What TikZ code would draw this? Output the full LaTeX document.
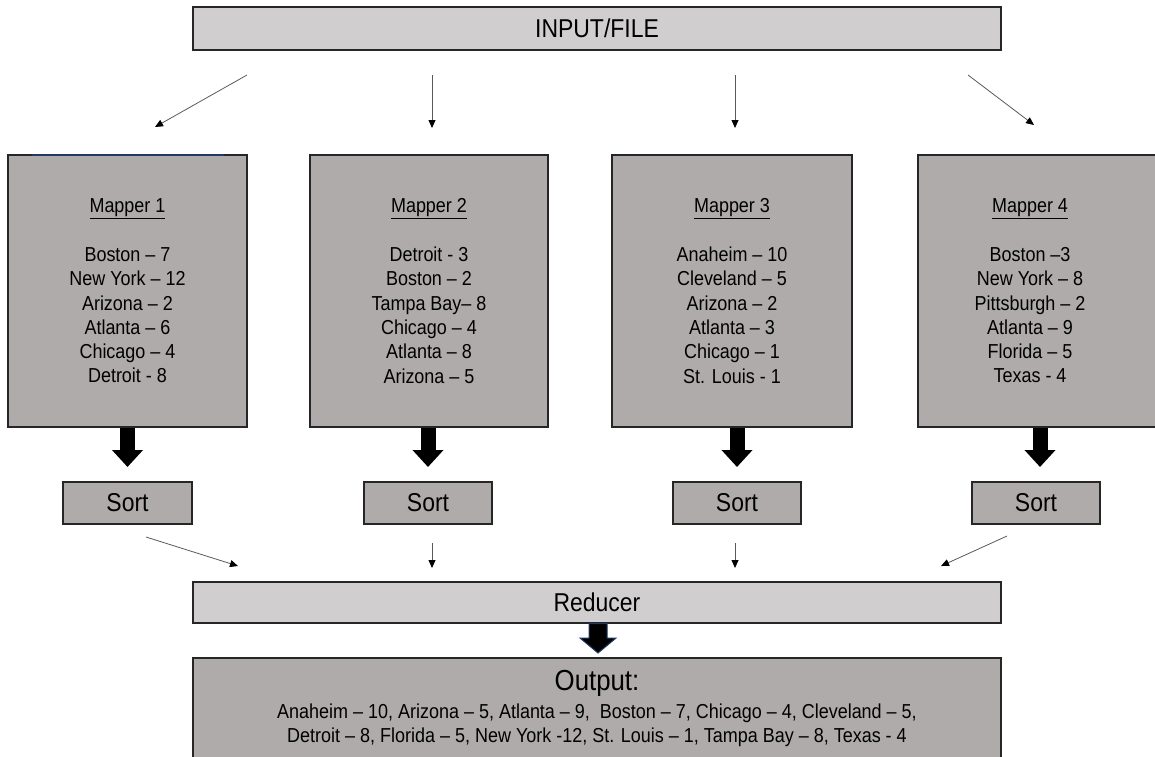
\documentclass[tikz,border=0pt]{standalone}
\usepackage{fontspec}
\setmainfont{Liberation Sans}[FakeStretch=0.89]
\usetikzlibrary{arrows.meta}

\definecolor{boxlight}{HTML}{D0CECE}
\definecolor{boxdark}{HTML}{AFABAB}
\definecolor{edge}{HTML}{262626}
\definecolor{thin}{HTML}{595959}
\definecolor{navyline}{HTML}{1F3864}

\begin{document}
\begin{tikzpicture}[x=1pt,y=-1pt,
  every node/.style={inner sep=0pt, outer sep=0pt},
  lightbox/.style={draw=edge, line width=1.3pt, fill=boxlight, rectangle},
  darkbox/.style={draw=edge, line width=1.3pt, fill=boxdark, rectangle},
  maptext/.style={align=center, font=\fontsize{20.2}{24.3}\selectfont},
  bigtext/.style={font=\fontsize{25.8}{30}\selectfont},
  thinarrow/.style={draw=thin, line width=0.8pt,
    -{Triangle[length=8pt,width=7pt,color=black]}},
  fatarrow/.style={draw=black, line width=15pt, shorten <=0.7pt,
    -{Triangle[length=17pt,width=30pt]}}
]
\useasboundingbox (0,0) rectangle (1155,756);
\clip (0,0) rectangle (1155,756);

% source
\node[lightbox, minimum width=808, minimum height=43, bigtext] (input) at (597,28.5) {INPUT/FILE};

% mappers
\node[darkbox, minimum width=239, minimum height=272, maptext] (m1) at (127.5,291)
  {\underline{Mapper 1}\\[24.3pt]Boston – 7\\New York – 12\\Arizona – 2\\Atlanta – 6\\Chicago – 4\\Detroit - 8};
\draw[navyline, line width=1.2pt] ([xshift=24]m1.north west) -- ([xshift=-23]m1.north east);
\node[darkbox, minimum width=238, minimum height=272, maptext] (m2) at (429,291)
  {\underline{Mapper 2}\\[24.3pt]Detroit - 3\\Boston – 2\\Tampa Bay– 8\\Chicago – 4\\Atlanta – 8\\Arizona – 5};
\node[darkbox, minimum width=240, minimum height=272, maptext] (m3) at (732,291)
  {\underline{Mapper 3}\\[24.3pt]Anaheim – 10\\Cleveland – 5\\Arizona – 2\\Atlanta – 3\\Chicago – 1\\St. Louis - 1};
\node[darkbox, minimum width=250, minimum height=272] (m4) at (1043,291) {};
\node[maptext] (m4t) at (1030,291)
  {\underline{Mapper 4}\\[24.3pt]Boston –3\\New York – 8\\Pittsburgh – 2\\Atlanta – 9\\Florida – 5\\Texas - 4};

% sort stages
\node[darkbox, minimum width=129, minimum height=42, bigtext] (s1) at (127.5,503) {Sort};
\node[darkbox, minimum width=128, minimum height=42, bigtext] (s2) at (428,503) {Sort};
\node[darkbox, minimum width=128, minimum height=42, bigtext] (s3) at (737,503) {Sort};
\node[darkbox, minimum width=128, minimum height=42, bigtext] (s4) at (1036,503) {Sort};

% reducer and result
\node[lightbox, minimum width=808, minimum height=41, bigtext] (red) at (597,602.5) {Reducer};
\node[darkbox, minimum width=808, minimum height=132] (out) at (597,724) {};
\node[font=\fontsize{29}{32}\selectfont] (outt) at (597,683) {Output:};
\node[maptext] (outl) at (597,725)
  {Anaheim – 10, Arizona – 5, Atlanta – 9,\ \ Boston – 7, Chicago – 4, Cleveland – 5,\\
   Detroit – 8, Florida – 5, New York -12, St. Louis – 1, Tampa Bay – 8, Texas - 4};

% input fan-out
\coordinate (i1) at (247,75);   \coordinate (t1) at (155,127);
\coordinate (i2) at (432,75);   \coordinate (t2) at (432,128);
\coordinate (i3) at (735,75);   \coordinate (t3) at (735,128);
\coordinate (i4) at (968,75);   \coordinate (t4) at (1034,125);
\draw[thinarrow] (i1) -- (t1);
\draw[thinarrow] (i2) -- (t2);
\draw[thinarrow] (i3) -- (t3);
\draw[thinarrow] (i4) -- (t4);

% mapper to sort (yshift is in page units: positive is upward)
\draw[fatarrow] (m1.south) -- ([yshift=15]s1.north);
\draw[fatarrow] (s2.north |- m2.south) -- ([yshift=15]s2.north);
\draw[fatarrow] (m3.south -| s3.north) -- ([yshift=15]s3.north);
\draw[fatarrow] ([xshift=4]s4.north |- m4.south) -- ([xshift=4,yshift=15]s4.north);

% sort fan-in
\coordinate (o1) at (146,537);  \coordinate (r1) at (238,566);
\coordinate (o2) at (432,543);  \coordinate (r2) at (432,568);
\coordinate (o3) at (735,543);  \coordinate (r3) at (735,568);
\coordinate (o4) at (1007,536); \coordinate (r4) at (941,566);
\draw[thinarrow] (o1) -- (r1);
\draw[thinarrow] (o2) -- (r2);
\draw[thinarrow] (o3) -- (r3);
\draw[thinarrow] (o4) -- (r4);

% reducer to output block arrow
\draw[fill=black, draw=navyline, line width=1pt]
  ([xshift=-8,yshift=-0.7]red.south) -- ([xshift=10,yshift=-0.7]red.south)
  -- ([xshift=10,yshift=-15]red.south) -- ([xshift=19,yshift=-15]red.south)
  -- ([xshift=1,yshift=-30]red.south) -- ([xshift=-17,yshift=-15]red.south)
  -- ([xshift=-8,yshift=-15]red.south) -- cycle;
\end{tikzpicture}
\end{document}
